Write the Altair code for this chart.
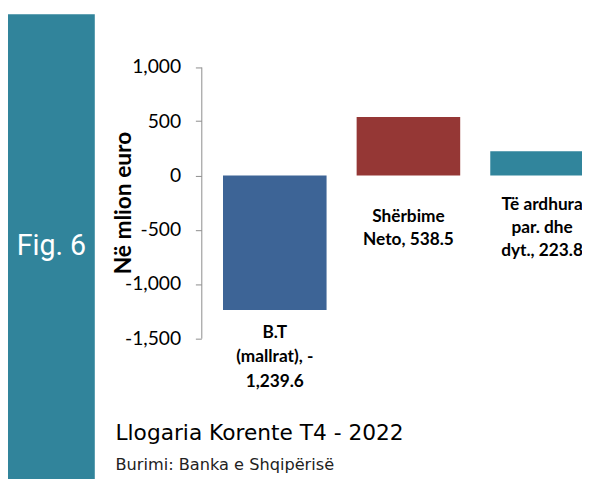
import altair as alt
import pandas as pd

categories = ["B.T (mallrat)", "Shërbime Neto", "Të ardhura par. dhe dyt."]
values = [-1239.6, 538.5, 223.8]
labels = ["B.T\n(mallrat), -\n1,239.6", "Shërbime\nNeto, 538.5", "Të ardhura\npar. dhe\ndyt., 223.8"]
colors = ["#3D6496", "#953735", "#31859C"]
y_ticks = [1000, 500, 0, -500, -1000, -1500]

title_text = "Llogaria Korente T4 - 2022"
source_text = "Burimi: Banka e Shqipërisë"
fig_text = "Fig. 6"
y_title = "Në mlion euro"

LH = 23.5

df = pd.DataFrame({"cat": categories, "value": values, "label": labels})
one = pd.DataFrame({"a": [0]})

xenc = alt.X(
    "cat:N",
    sort=categories,
    axis=None,
    scale=alt.Scale(range=[22, 398], paddingInner=0.225, paddingOuter=0),
)
yscale = alt.Scale(domain=[-1500, 1000], range=[331.5, 56.5], nice=False, zero=False)

base = alt.Chart(df)

bars = base.mark_bar(clip=True).encode(
    x=xenc,
    y=alt.Y(
        "value:Q",
        scale=yscale,
        axis=alt.Axis(
            values=y_ticks,
            labelExpr="replace(format(datum.value, ',d'), '\u2212', '-')",
            grid=False,
            domainColor="#8C8C8C",
            tickColor="#8C8C8C",
            tickSize=6,
            labelPadding=15,
            labelFont="Lato",
            labelFontSize=19.5,
            labelColor="#000000",
            title=y_title,
            titleFont="Lato",
            titleFontSize=23,
            titleFontWeight="bold",
            titleColor="#000000",
            titleX=-79,
            titleY=194,
            titleAngle=270,
            titleAlign="center",
            titleBaseline="middle",
        ),
    ),
    y2=alt.datum(0),
    color=alt.Color("cat:N", scale=alt.Scale(domain=categories, range=colors), legend=None),
)

label_style = dict(font="Lato", fontSize=17.5, fontWeight="bold", color="#000000",
                   lineBreak="\n", align="center", baseline="middle")

centered = base.transform_calculate(
    off=f"-(length(split(datum.label, '\\n')) - 1) * {LH / 2}"
)

pos_labels = centered.transform_filter("datum.value >= 0").mark_text(
    dy=53.5, lineHeight=LH, **label_style
).encode(
    x=xenc, y=alt.datum(0), yOffset=alt.YOffset("off:Q", scale=None), text="label:N"
)
neg_labels = base.transform_filter("datum.value < 0").mark_text(
    dy=23, lineHeight=25, **label_style
).encode(
    x=xenc, y=alt.Y("value:Q"), text="label:N"
)

sidebar = alt.Chart(one).mark_rect(color="#31849B").encode(
    x=alt.value(-196), x2=alt.value(-108), y=alt.value(3), y2=alt.value(480)
)
fig = alt.Chart(one).mark_text(
    text=fig_text, font="Roboto", fontSize=29, color="white", align="center", baseline="middle"
).encode(x=alt.value(-152), y=alt.value(238))
title = alt.Chart(one).mark_text(
    text=title_text, font="DejaVu Sans", fontSize=22, color="#000000", align="left", baseline="alphabetic"
).encode(x=alt.value(-87), y=alt.value(435))
source = alt.Chart(one).mark_text(
    text=source_text, font="DejaVu Sans", fontSize=16.4, color="#222222", align="left", baseline="alphabetic"
).encode(x=alt.value(-87), y=alt.value(465))

chart = alt.layer(sidebar, fig, bars, pos_labels, neg_labels, title, source).properties(
    width=386,
    height=400,
    autosize=alt.AutoSizeParams(type="none"),
    padding={"left": 196, "top": 0, "right": 0, "bottom": 71},
).configure_view(stroke=None)

chart.save("out.html", embed_options={"renderer": "svg", "actions": False})
